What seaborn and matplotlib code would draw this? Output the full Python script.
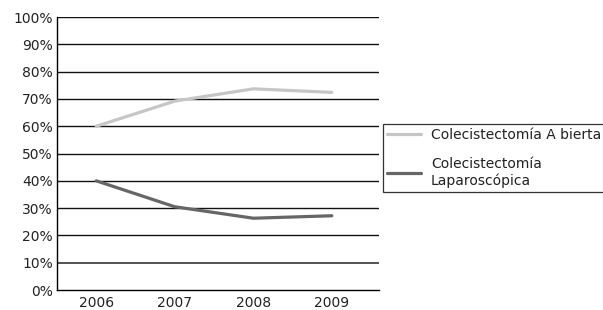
import pandas as pd
import matplotlib.pyplot as plt
import seaborn as sns

years = ['2006', '2007', '2008', '2009']
abierta = [60.0, 69.2, 73.7, 72.4]
laparoscopica = [40.0, 30.5, 26.3, 27.2]
series_names = ['Colecistectomía A bierta', 'Colecistectomía\nLaparoscópica']
y_ticks = [0, 10, 20, 30, 40, 50, 60, 70, 80, 90, 100]

df = pd.DataFrame({
    'year': years * 2,
    'value': abierta + laparoscopica,
    'serie': [series_names[0]] * 4 + [series_names[1]] * 4,
})

sns.set_style('white')
plt.rcParams['font.family'] = ['DejaVu Sans']

fig = plt.figure(figsize=(6.03, 3.10), dpi=100)
ax = fig.add_axes([0.0945, 0.0645, 0.534, 0.8805])

sns.lineplot(data=df, x='year', y='value', hue='serie', ax=ax,
             palette=['#c6c6c6', '#666666'], linewidth=2.3, sort=False,
             legend=True)

ax.set_ylim(0, 100)
ax.set_xlim(-0.5, 3.6)
ax.set_yticks(y_ticks)
ax.set_yticklabels([f'{t}%' for t in y_ticks], fontsize=10, color='#222222')
ax.tick_params(axis='x', labelsize=10, labelcolor='#222222', length=0, pad=4)
ax.tick_params(axis='y', length=0, pad=3)
ax.set_xlabel('')
ax.set_ylabel('')

for t in y_ticks[1:]:
    lw = 1.3 if t == 10 else 1.0
    col = '#444444' if t == 10 else '#111111'
    ax.axhline(t, color=col, linewidth=lw, zorder=0)

for s in ['top', 'right']:
    ax.spines[s].set_visible(False)
for s in ['left', 'bottom']:
    ax.spines[s].set_color('black')
    ax.spines[s].set_linewidth(1.0)

leg = ax.legend(loc='upper left', bbox_to_anchor=(383 / 603, 1 - 124 / 310),
                bbox_transform=fig.transFigure, frameon=True, fancybox=False,
                fontsize=10, handlelength=2.4, handletextpad=0.75,
                borderpad=0.3, labelspacing=1.05, borderaxespad=0)
for t in leg.get_texts():
    t.set_color('#222222')
leg.get_frame().set_edgecolor('black')
leg.get_frame().set_linewidth(0.9)

fig.savefig('out.png', dpi=100)
